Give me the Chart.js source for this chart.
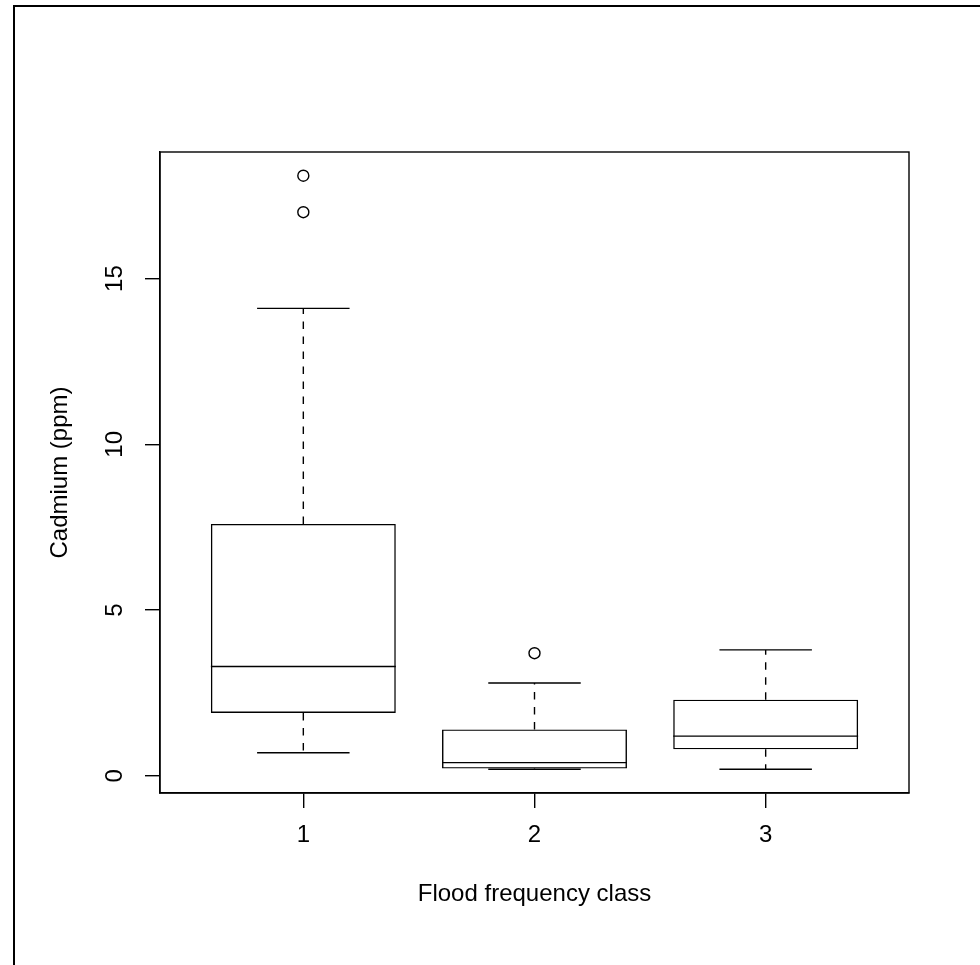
<!DOCTYPE html>
<html>
<head>
<meta charset="utf-8">
<script src="https://cdn.jsdelivr.net/npm/chart.js@4.4.1/dist/chart.umd.min.js"></script>
<style>
  html, body { margin: 0; padding: 0; background: #ffffff; }
  canvas { display: block; }
</style>
</head>
<body>
<canvas id="chart" width="980" height="965"></canvas>
<script>
// Cadmium concentration by flood frequency class: five-number summaries
const categories = ['1', '2', '3'];
const whiskerLow = [0.7, 0.2, 0.2];
const lowerQuartile = [1.9, 0.22, 0.8];
const medians = [3.3, 0.4, 1.2];
const upperQuartile = [7.6, 1.4, 2.3];
const whiskerHigh = [14.1, 2.8, 3.8];
// points beyond the whiskers: class number and value
const outlierClass = [1, 1, 2];
const outlierValue = [18.1, 17.0, 3.7];
// axis ticks
const yTickValues = [0, 5, 10, 15];
const xTickValues = [1, 2, 3];

const FONT = { family: "'Liberation Sans', Arial, Helvetica, sans-serif", size: 24 };
const INK = '#000000';
const LW = 1.4;
const BOX_FRACTION = 0.8;         // box width as a fraction of class spacing
const CAP_HALF = BOX_FRACTION / 4; // whisker caps are half the box width

// axis extents: classes span 0.5..n+0.5, both axes padded by 4%
const n = categories.length;
const xMin = 0.5 - 0.04 * n, xMax = n + 0.5 + 0.04 * n;
const allValues = whiskerLow.concat(whiskerHigh, outlierValue);
const dMin = Math.min(...allValues), dMax = Math.max(...allValues);
const yMin = dMin - 0.04 * (dMax - dMin), yMax = dMax + 0.04 * (dMax - dMin);

// build the segment lists (null y breaks the line between segments)
const gap = x => ({ x: x, y: null });
const boxData = categories.map((c, i) => ({ x: i + 1, y: [lowerQuartile[i], upperQuartile[i]] }));
const medianData = [], whiskerData = [], capData = [];
categories.forEach((c, i) => {
  const x = i + 1;
  medianData.push({ x: x - BOX_FRACTION / 2, y: medians[i] }, { x: x + BOX_FRACTION / 2, y: medians[i] }, gap(x));
  whiskerData.push({ x: x, y: upperQuartile[i] }, { x: x, y: whiskerHigh[i] }, gap(x));
  whiskerData.push({ x: x, y: lowerQuartile[i] }, { x: x, y: whiskerLow[i] }, gap(x));
  capData.push({ x: x - CAP_HALF, y: whiskerHigh[i] }, { x: x + CAP_HALF, y: whiskerHigh[i] }, gap(x));
  capData.push({ x: x - CAP_HALF, y: whiskerLow[i] }, { x: x + CAP_HALF, y: whiskerLow[i] }, gap(x));
});
const outlierData = outlierClass.map((c, i) => ({ x: c, y: outlierValue[i] }));

const lineStyle = {
  type: 'line', borderColor: INK, borderWidth: LW, pointRadius: 0,
  fill: false, tension: 0, spanGaps: false
};

// plot box and page frame
const framePlugin = {
  id: 'frame',
  afterDraw(chart) {
    const { ctx, chartArea: a } = chart;
    ctx.save();
    ctx.strokeStyle = INK;
    ctx.lineWidth = LW;
    ctx.strokeRect(a.left, a.top, a.right - a.left, a.bottom - a.top);
    ctx.lineWidth = 2;
    ctx.beginPath();
    ctx.moveTo(14, chart.height);
    ctx.lineTo(14, 6);
    ctx.lineTo(chart.width, 6);
    ctx.stroke();
    ctx.restore();
  }
};

const axisCommon = {
  type: 'linear',
  offset: false,
  grid: { drawOnChartArea: false, drawTicks: true, tickLength: 15, color: INK, lineWidth: LW, offset: false },
  border: { display: true, color: INK, width: LW }
};

new Chart(document.getElementById('chart'), {
  type: 'bar',
  data: {
    datasets: [
      {
        type: 'bar', data: boxData,
        backgroundColor: 'rgba(255,255,255,0)', borderColor: INK, borderWidth: LW,
        borderSkipped: false, barPercentage: BOX_FRACTION, categoryPercentage: 1
      },
      Object.assign({ data: medianData }, lineStyle),
      Object.assign({ data: whiskerData, borderDash: [7.5, 7.5] }, lineStyle),
      Object.assign({ data: capData }, lineStyle),
      {
        type: 'scatter', data: outlierData, pointStyle: 'circle', pointRadius: 5.5,
        pointBackgroundColor: '#ffffff', pointBorderColor: INK, pointBorderWidth: LW
      }
    ]
  },
  options: {
    responsive: false,
    animation: false,
    devicePixelRatio: 1,
    layout: { padding: { left: 0, top: 152, right: 71, bottom: 0 } },
    plugins: { legend: { display: false }, tooltip: { enabled: false } },
    scales: {
      x: Object.assign({}, axisCommon, {
        min: xMin, max: xMax,
        afterBuildTicks: s => { s.ticks = xTickValues.map(v => ({ value: v })); },
        afterFit: s => { s.height = 172; },
        ticks: { font: FONT, color: INK, padding: 13, maxRotation: 0, callback: v => categories[v - 1] },
        title: { display: true, text: 'Flood frequency class', font: FONT, color: INK, padding: { top: 0, bottom: 56 } }
      }),
      y: Object.assign({}, axisCommon, {
        min: yMin, max: yMax,
        afterBuildTicks: s => { s.ticks = yTickValues.map(v => ({ value: v })); },
        afterFit: s => { s.width = 160; },
        ticks: { font: FONT, color: INK, padding: 16, minRotation: 90, maxRotation: 90, crossAlign: 'center', callback: v => String(v) },
        title: { display: true, text: 'Cadmium (ppm)', font: FONT, color: INK, padding: { top: 46, bottom: 0 } }
      })
    }
  },
  plugins: [framePlugin]
});
</script>
</body>
</html>
